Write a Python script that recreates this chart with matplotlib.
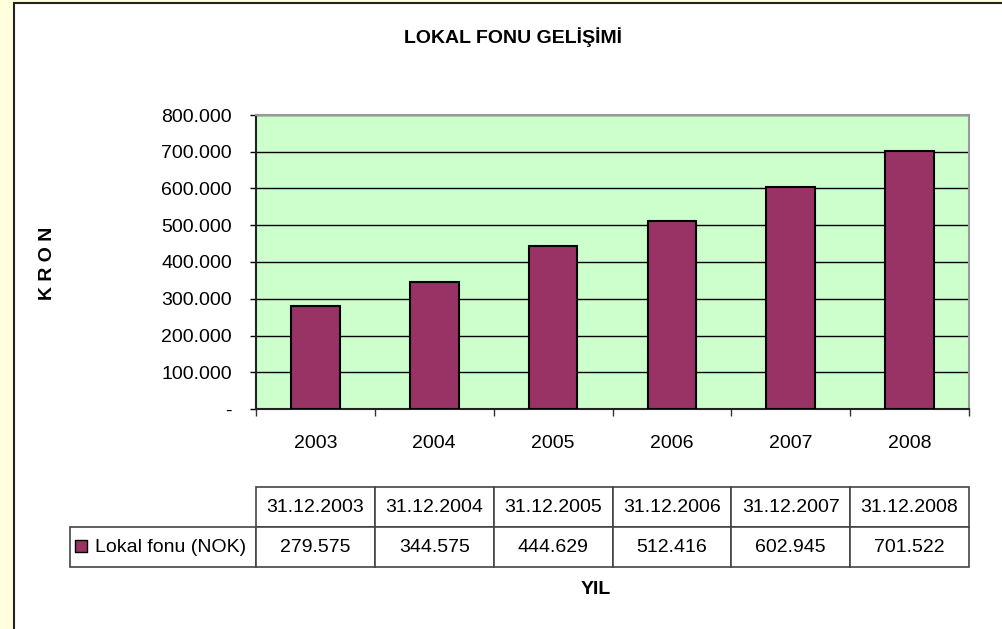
import matplotlib
matplotlib.use("Agg")
import matplotlib.pyplot as plt
from matplotlib.patches import Rectangle
from matplotlib.ticker import FuncFormatter, FixedLocator

plt.rcParams['font.family'] = ['Liberation Sans', 'DejaVu Sans']

years = ["2003", "2004", "2005", "2006", "2007", "2008"]
dates = ["31.12.2003", "31.12.2004", "31.12.2005", "31.12.2006", "31.12.2007", "31.12.2008"]
values = [279575, 344575, 444629, 512416, 602945, 701522]
value_labels = ["279.575", "344.575", "444.629", "512.416", "602.945", "701.522"]
series_name = "Lokal fonu (NOK)"
title = "LOKAL FONU GELİŞİMİ"
xlabel = "YIL"
ylabel = "K R O N"
yticks = [0, 100000, 200000, 300000, 400000, 500000, 600000, 700000, 800000]

FS = 14
W, H = 1003, 629
fig = plt.figure(figsize=(W / 100, H / 100), dpi=100)
fig.patch.set_facecolor('#FFFFDD')
fig.patches.append(Rectangle((14 / W, -0.01), 1.02 - 14 / W, 1 - 3 / H + 0.01,
                             transform=fig.transFigure, facecolor='white',
                             edgecolor='#222222', linewidth=1.5, zorder=-5))

ax_l, ax_r, ax_t, ax_b = 256, 969, 115, 409
ax = fig.add_axes([ax_l / W, 1 - ax_b / H, (ax_r - ax_l) / W, (ax_b - ax_t) / H])
ax.set_zorder(2)
ax.set_facecolor('#CCFFCC')

x = list(range(len(years)))
ax.bar(x, values, width=0.41, color='#993366', edgecolor='black', linewidth=1.5, zorder=3)

ax.set_xlim(-0.5, len(years) - 0.5)
ax.set_ylim(0, 800000)
ax.yaxis.set_major_locator(FixedLocator(yticks))
ax.yaxis.set_major_formatter(FuncFormatter(
    lambda v, p: "-" if v == 0 else f"{int(v):,}".replace(",", ".")))
ax.grid(axis='y', color='black', linewidth=1, zorder=1)
ax.set_axisbelow(True)

ax.set_xticks(x)
ax.set_xticklabels(years)
ax.set_xticks([i + 0.5 for i in range(-1, len(years))], minor=True)
ax.tick_params(axis='x', which='major', length=0, pad=19, labelsize=FS)
ax.tick_params(axis='x', which='minor', length=5, width=1, color='#333333', direction='out')
ax.tick_params(axis='y', length=4.3, width=1, direction='out', labelsize=FS, pad=13)

for s in ['left', 'bottom']:
    ax.spines[s].set_color('#222222')
    ax.spines[s].set_linewidth(1.5)
for s in ['top', 'right']:
    ax.spines[s].set_color('#999999')
    ax.spines[s].set_linewidth(1.5)

# data table
lab_w = (ax_r - ax_l) / 6
label_col = (ax_l - 70)
tot = label_col + 6 * lab_w
y_top = (ax_b - 487) / (ax_b - ax_t)
y_bot = (ax_b - 567) / (ax_b - ax_t)
cell_text = [[""] + dates, [series_name] + value_labels]
tbl = ax.table(cellText=cell_text,
               colWidths=[label_col / tot] + [lab_w / tot] * 6,
               cellLoc='center',
               bbox=[-label_col / (ax_r - ax_l), y_bot, tot / (ax_r - ax_l), y_top - y_bot])
tbl.auto_set_font_size(False)
tbl.set_fontsize(FS)
for (r, c), cell in tbl.get_celld().items():
    cell.set_edgecolor('#444444')
    cell.set_linewidth(1.2)
    if r == 0 and c == 0:
        cell.visible_edges = 'open'
tbl[1, 0]._loc = 'left'
tbl[1, 0].get_text().set_ha('left')
tbl[1, 0].PAD = (95 - 70) / label_col

ax.scatter([-(ax_l - 81.5) / (ax_r - ax_l)], [(ax_b - 546) / (ax_b - ax_t)],
           marker='s', s=70, color='#993366', edgecolor='black', linewidth=1,
           transform=ax.transAxes, clip_on=False, zorder=5)

fig.text(513 / W, 1 - 37 / H, title, ha='center', va='center', fontsize=FS, fontweight='bold')
fig.text(596 / W, 1 - 590 / H, xlabel, ha='center', va='center', fontsize=FS, fontweight='bold')
fig.text(48 / W, 1 - 263 / H, ylabel, ha='center', va='center', fontsize=FS,
         fontweight='bold', rotation=90)

fig.savefig('out.png', dpi=100, facecolor=fig.get_facecolor())
